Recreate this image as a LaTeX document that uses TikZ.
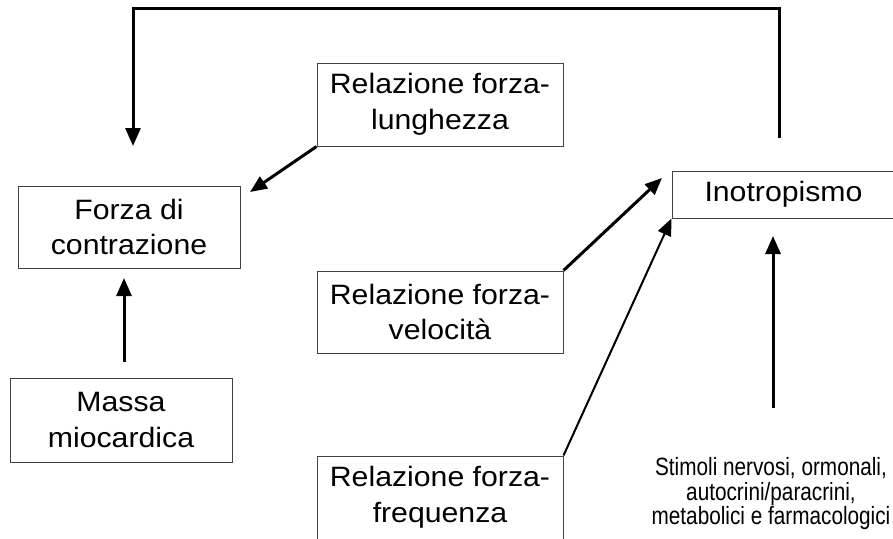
\documentclass[tikz,border=0pt]{standalone}
\usepackage{fontspec}
\setmainfont{Liberation Sans}
\newfontfamily\boxfont{Liberation Sans}[FakeStretch=1.08]
\newfontfamily\stimfont{Liberation Sans}[FakeStretch=0.83]
\usetikzlibrary{arrows.meta}
\begin{document}
\begin{tikzpicture}[x=1pt,y=-1pt]

      \tikzset{box/.style={draw=black!75, line width=1pt, align=center, inner sep=0pt,
               font=\boxfont\fontsize{28}{35.5}\selectfont}}
      \useasboundingbox (0,0) rectangle (893,538);
%% Boxes
      	\node[box, minimum width=222pt, minimum height=82pt] (forza) at (129,227) {Forza di\\contrazione};
      	\node[box, minimum width=246pt, minimum height=83pt] (lung) at (440,104.5) {Relazione forza-\\lunghezza};
      	\node[box, minimum width=246pt, minimum height=82pt] (velo) at (440,312) {Relazione forza-\\velocit\`a};
      	\node[box, minimum width=246pt, minimum height=83pt] (freq) at (440,497.5) {Relazione forza-\\frequenza};
      	\node[box, minimum width=222pt, minimum height=84pt] (massa) at (121,420) {Massa\\miocardica};
      	\node[box, minimum width=223pt, minimum height=47pt] (ino) at (783.5,194.5) {Inotropismo};
      	\node[align=center, inner sep=0pt, font=\stimfont\fontsize{25}{24.5}\selectfont] (stim) at (771,494)
      	   {Stimoli nervosi, ormonali,\\autocrini/paracrini,\\metabolici e farmacologici};
%Free ends
      	\coordinate (fbStart) at (779,138);
      	\coordinate (fbEnd) at (133,146);
      	\coordinate (lungTip) at (250,192);
      	\coordinate (veloTip) at (662,178);
      	\coordinate (massaTail) at (124,362);
      	\coordinate (massaTip) at (124,278);
      	\coordinate (stimTail) at (773,408);
      	\coordinate (stimTip) at (773,236);
%Edges
		\draw [->, >={Triangle[length=18pt,width=15pt]}, line width=3pt] (fbStart) -- ++(0,-130) -| (fbEnd);
		\path [->, >={Triangle[length=17pt,width=14pt]}, line width=3pt] (lung.south west) edge (lungTip);
		\path [->, >={Triangle[length=17pt,width=14pt]}, line width=3pt] (velo.north east) edge (veloTip);
		\path [->, >={Triangle[length=17pt,width=14pt]}, line width=2pt] (freq.north east) edge (ino.south west);
		\path [->, >={Triangle[length=18pt,width=15pt]}, line width=3pt] (massaTail) edge (massaTip);
		\path [->, >={Triangle[length=18pt,width=15pt]}, line width=3pt] (stimTail) edge (stimTip);

	\end{tikzpicture}
\end{document}
